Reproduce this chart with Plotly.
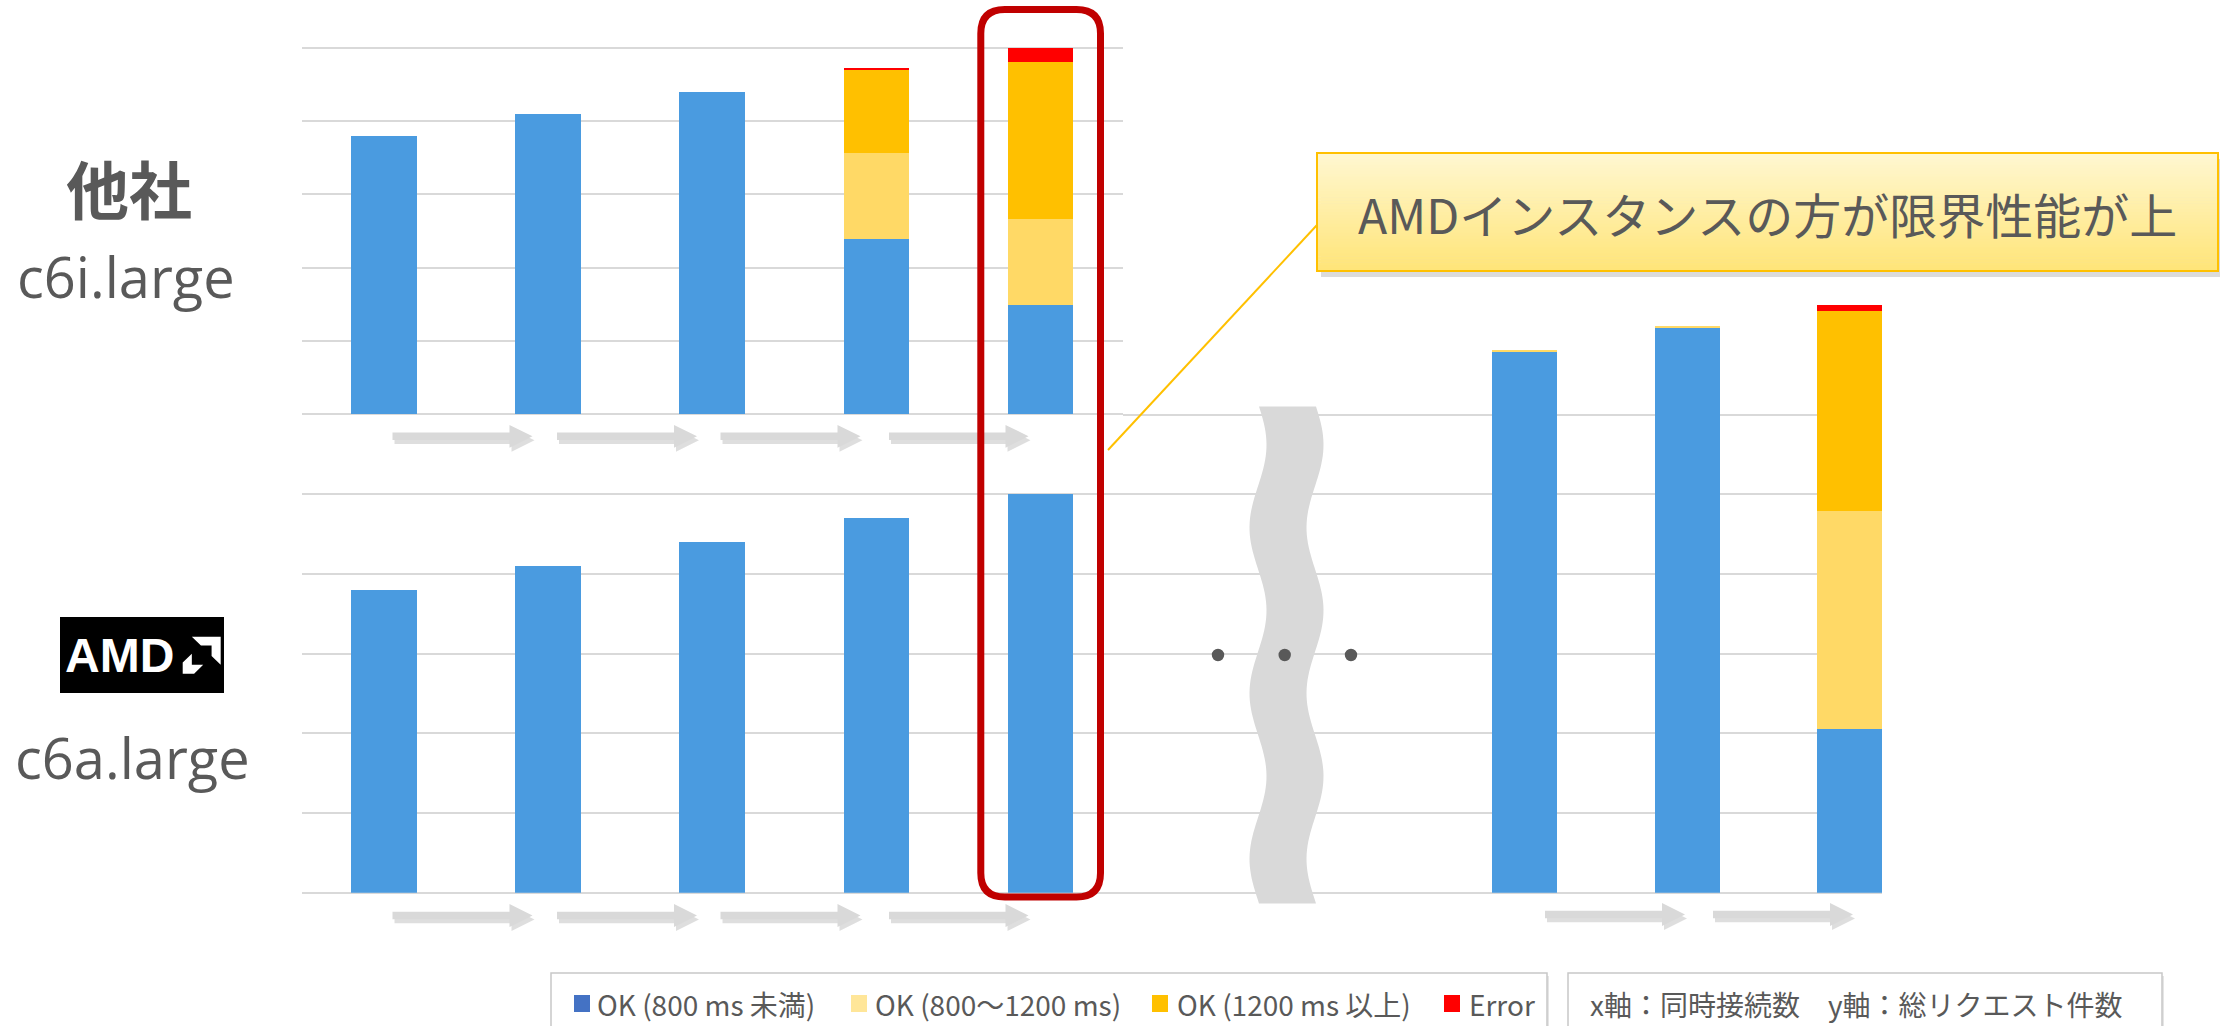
import numpy as np
import plotly.graph_objects as go

W, H = 2220, 1026

# ---------------- data ----------------
series_names = ["OK (800 ms 未満)", "OK (800～1200 ms)", "OK (1200 ms 以上)", "Error"]
bar_colors = ["#4A9BE0", "#FFD966", "#FFC000", "#FF0000"]
legend_colors = ["#4472C4", "#FFE699", "#FFC000", "#FF0000"]

conc_left = ["1", "2", "3", "4", "5"]      # 同時接続数 (hidden tick labels)
conc_right = ["n-2", "n-1", "n"]

# 他社 c6i.large (units = one gridline)
c6i_ok_fast = [3.80, 4.10, 4.40, 2.39, 1.49]
c6i_ok_mid = [0.00, 0.00, 0.00, 1.18, 1.17]
c6i_ok_slow = [0.00, 0.00, 0.00, 1.13, 2.14]
c6i_error = [0.00, 0.00, 0.00, 0.02, 0.20]

# AMD c6a.large
c6a_ok_fast = [3.80, 4.10, 4.40, 4.70, 5.00]
c6a_ok_mid = [0.00, 0.00, 0.00, 0.00, 0.00]
c6a_ok_slow = [0.00, 0.00, 0.00, 0.00, 0.00]
c6a_error = [0.00, 0.00, 0.00, 0.00, 0.00]

# AMD c6a.large, higher concurrency (after the break)
c6a_tail_ok_fast = [6.79, 7.09, 2.06]
c6a_tail_ok_mid = [0.02, 0.02, 2.73]
c6a_tail_ok_slow = [0.00, 0.00, 2.51]
c6a_tail_error = [0.00, 0.00, 0.08]

gridlines_left = [0, 1, 2, 3, 4, 5]
gridlines_right = [0, 1, 2, 3, 4, 5, 6]

callout_text = "AMDインスタンスの方が限界性能が上"
axis_note = "x軸：同時接続数　y軸：総リクエスト件数"

GRID = "#D9D9D9"
TXT = "#595959"
JP = "Noto Sans CJK JP, Noto Sans, sans-serif"
LAT = "Open Sans, Noto Sans, sans-serif"


def X(p):
    return p / W


def Y(p):
    return 1 - p / H


def poly(points):
    return "M " + " L ".join(f"{X(a):.5f},{Y(b):.5f}" for a, b in points) + " Z"


fig = go.Figure()

groups = [
    ("x", "y", conc_left, [c6i_ok_fast, c6i_ok_mid, c6i_ok_slow, c6i_error]),
    ("x2", "y2", conc_left, [c6a_ok_fast, c6a_ok_mid, c6a_ok_slow, c6a_error]),
    ("x3", "y3", conc_right, [c6a_tail_ok_fast, c6a_tail_ok_mid, c6a_tail_ok_slow, c6a_tail_error]),
]
for xa, ya, cats, vals in groups:
    for name, color, v in zip(series_names, bar_colors, vals):
        fig.add_trace(go.Bar(
            x=cats, y=v, name=name, xaxis=xa, yaxis=ya,
            marker=dict(color=color, line=dict(width=0)),
            showlegend=False, hoverinfo="skip",
        ))


def xax(domain, rng, anchor):
    return dict(domain=domain, type="category", range=rng, showgrid=False, anchor=anchor,
                showticklabels=False, ticks="", showline=False, zeroline=False,
                fixedrange=True)


def yax(domain, rng, anchor, tickvals):
    return dict(domain=domain, range=rng, anchor=anchor, tickmode="array",
                tickvals=tickvals, showgrid=True, gridcolor=GRID, gridwidth=2,
                zeroline=True, zerolinecolor=GRID, zerolinewidth=2,
                showticklabels=False, ticks="", showline=False, fixedrange=True)


# pixel scales: top 73.32 px/unit (baseline 414.3), bottom 79.67 px/unit (baseline 892.8)
TOPMAX, BOTMAX, RMAX = 5.06, 5.06, 7.5
fig.update_layout(
    width=W, height=H,
    margin=dict(l=0, r=0, t=0, b=0, autoexpand=False),
    paper_bgcolor="white", plot_bgcolor="rgba(0,0,0,0)",
    barmode="stack", bargap=0.6, showlegend=False,
    xaxis=xax([X(302), X(1122.5)], [-0.5, 4.5], "y"),
    yaxis=yax([Y(414.3), Y(414.3 - TOPMAX * 73.32)], [0, TOPMAX], "x", gridlines_left),
    xaxis2=xax([X(302), X(1122.5)], [-0.5, 4.5], "y2"),
    yaxis2=yax([Y(892.8), Y(892.8 - BOTMAX * 79.67)], [0, BOTMAX], "x2", gridlines_left),
    xaxis3=xax([X(1122.5), X(1882)], [-2.478, 2.2], "y3"),
    yaxis3=yax([Y(892.8), Y(892.8 - RMAX * 79.67)], [0, RMAX], "x3", gridlines_right),
)

shapes = []
annotations = []


def add_rect(x0, y0, x1, y1, fill, line_color=None, line_width=0):
    shapes.append(dict(type="rect", xref="paper", yref="paper",
                       x0=X(x0), x1=X(x1), y0=Y(y1), y1=Y(y0),
                       fillcolor=fill, line=dict(color=line_color or "rgba(0,0,0,0)", width=line_width),
                       layer="above"))


def add_path(path, fill, line_color=None, line_width=0):
    shapes.append(dict(type="path", xref="paper", yref="paper", path=path,
                       fillcolor=fill, line=dict(color=line_color or "rgba(0,0,0,0)", width=line_width),
                       layer="above"))


# ---- arrows under the charts ----
def arrow(x0, x1, yc, head=23, shaft=3.7, hh=11.4):
    return [(x0, yc - shaft), (x1 - head, yc - shaft), (x1 - head, yc - hh), (x1, yc),
            (x1 - head, yc + hh), (x1 - head, yc + shaft), (x0, yc + shaft)]


arrow_sets = [
    ([(392.5, 532.5), (557, 697), (720.5, 860.5), (889, 1028.5)], 436.3),
    ([(392.5, 532.5), (557, 697), (720.5, 860.5), (889, 1028.5)], 915.5),
    ([(1545, 1685), (1713, 1853)], 914.5),
]
for spans, yc in arrow_sets:
    for a, b in spans:
        pts = arrow(a, b, yc)
        add_path(poly([(p + 2, q + 4) for p, q in pts]), "rgba(0,0,0,0.13)")
        add_path(poly(pts), "#D9D9D9")

# ---- break symbol (wave) ----
ys = np.linspace(406.5, 903.5, 121)
xl = 1258 + 8.5 * np.sin(2 * np.pi * (ys - 406.5) / 165.7 + 0.12)
pts = [(a, b) for a, b in zip(xl, ys)] + [(a + 57, b) for a, b in zip(xl[::-1], ys[::-1])]
add_path(poly(pts), "#D9D9D9")

for cx in [1218, 1284.7, 1351]:
    shapes.append(dict(type="circle", xref="paper", yref="paper",
                       x0=X(cx - 6.2), x1=X(cx + 6.2), y0=Y(655 + 6.2), y1=Y(655 - 6.2),
                       fillcolor=TXT, line=dict(width=0), layer="above"))

# ---- callout leader line ----
shapes.append(dict(type="line", xref="paper", yref="paper",
                   x0=X(1108), y0=Y(450), x1=X(1317), y1=Y(225),
                   line=dict(color="#FFC000", width=2), layer="above"))

# ---- red rounded highlight ----
rx0, rx1, ry0, ry1, r = 980.8, 1100.5, 9.5, 897, 24
rr = (f"M {X(rx0 + r)},{Y(ry0)} L {X(rx1 - r)},{Y(ry0)} Q {X(rx1)},{Y(ry0)} {X(rx1)},{Y(ry0 + r)} "
      f"L {X(rx1)},{Y(ry1 - r)} Q {X(rx1)},{Y(ry1)} {X(rx1 - r)},{Y(ry1)} "
      f"L {X(rx0 + r)},{Y(ry1)} Q {X(rx0)},{Y(ry1)} {X(rx0)},{Y(ry1 - r)} "
      f"L {X(rx0)},{Y(ry0 + r)} Q {X(rx0)},{Y(ry0)} {X(rx0 + r)},{Y(ry0)} Z")
shapes.append(dict(type="path", xref="paper", yref="paper", path=rr,
                   fillcolor="rgba(0,0,0,0)", line=dict(color="#C00000", width=7), layer="above"))

# ---- callout box with vertical gradient ----
bx0, bx1, by0, by1 = 1317, 2218, 153, 271
add_rect(bx0 + 4, by0 + 6, bx1 + 4, by1 + 6, "rgba(0,0,0,0.14)")
top_c = np.array([255, 248, 210])
bot_c = np.array([255, 229, 120])
nb = 40
for i in range(nb):
    t = (i + 0.5) / nb
    c = top_c + (bot_c - top_c) * t
    yy0 = by0 + (by1 - by0) * i / nb
    yy1 = by0 + (by1 - by0) * (i + 1) / nb + 0.6
    add_rect(bx0, yy0, bx1, yy1, f"rgb({int(c[0])},{int(c[1])},{int(c[2])})")
add_rect(bx0, by0, bx1, by1, "rgba(0,0,0,0)", "#FFC000", 2)
annotations.append(dict(x=X((bx0 + bx1) / 2), y=Y(213), xref="paper", yref="paper",
                        text=callout_text, showarrow=False, xanchor="center", yanchor="middle",
                        font=dict(family=JP, size=48, color=TXT)))

# ---- left labels ----
annotations.append(dict(x=X(128.5), y=Y(186), xref="paper", yref="paper", text="<b>他社</b>",
                        showarrow=False, xanchor="center", yanchor="middle",
                        font=dict(family=JP, size=63, color=TXT)))
annotations.append(dict(x=X(126), y=Y(276), xref="paper", yref="paper", text="c6i.large",
                        showarrow=False, xanchor="center", yanchor="middle",
                        font=dict(family=LAT, size=56, color=TXT)))
annotations.append(dict(x=X(132.5), y=Y(757), xref="paper", yref="paper", text="c6a.large",
                        showarrow=False, xanchor="center", yanchor="middle",
                        font=dict(family=LAT, size=56, color=TXT)))

# ---- AMD logo ----
add_rect(60, 617, 224, 693, "#000000")
annotations.append(dict(x=X(119.5), y=Y(655), xref="paper", yref="paper", text="<b>AMD</b>",
                        showarrow=False, xanchor="center", yanchor="middle",
                        font=dict(family="Liberation Sans, Arial, sans-serif", size=48, color="white")))
lx, ly, sx, sy = 182.7, 636.7, 0.38, 0.37
outer = [(24, 0), (100, 0), (100, 76), (76, 52), (76, 24), (48, 24)]
inner = [(24, 46), (0, 70), (0, 100), (30, 100), (54, 76), (24, 76)]
for shp in (outer, inner):
    add_path(poly([(lx + u * sx, ly + v * sy) for u, v in shp]), "white")

# ---- legend boxes (manual, bottom) ----
add_rect(551 + 2, 973 + 3, 1547 + 2, 1060, "rgba(0,0,0,0.10)")
add_rect(551, 973, 1547, 1060, "white", "#C8C8C8", 1.5)
add_rect(1568 + 2, 973 + 3, 2162 + 2, 1060, "rgba(0,0,0,0.10)")
add_rect(1568, 973, 2162, 1060, "white", "#C8C8C8", 1.5)

sw_x = [574, 851, 1152, 1444]
tx_x = [595, 873, 1175, 1466.5]
for name, col, sx0, tx0 in zip(series_names, legend_colors, sw_x, tx_x):
    add_rect(sx0, 995, sx0 + 16, 1012, col)
    annotations.append(dict(x=X(tx0), y=Y(1003.5), xref="paper", yref="paper", text=name,
                            showarrow=False, xanchor="left", yanchor="middle",
                            font=dict(family=JP, size=28, color=TXT)))
annotations.append(dict(x=X(1588), y=Y(1003.5), xref="paper", yref="paper", text=axis_note,
                        showarrow=False, xanchor="left", yanchor="middle",
                        font=dict(family=JP, size=28, color=TXT)))

fig.update_layout(shapes=shapes, annotations=annotations)
fig.write_html("out.html")
